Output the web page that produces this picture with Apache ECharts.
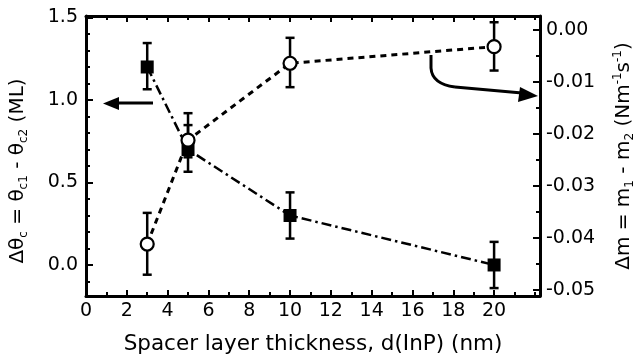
<!DOCTYPE html>
<html>
<head>
<meta charset="utf-8">
<script src="https://cdn.jsdelivr.net/npm/echarts@6/dist/echarts.min.js"></script>
<style>
  html, body { margin: 0; padding: 0; background: #fff; }
  #chart { width: 640px; height: 364px; }
</style>
</head>
<body>
<div id="chart"></div>
<script>
// spacer thickness (nm)
var thickness = [3, 5, 10, 20];
// delta theta_c (ML), left axis, filled squares
var dTheta = [1.2, 0.7, 0.3, 0.0];
var dThetaLo = [1.065, 0.565, 0.16, -0.14];
var dThetaHi = [1.345, 0.92, 0.44, 0.14];
// delta m (N m^-1 s^-1), right axis, open circles
var dM = [-0.0412, -0.0212, -0.0064, -0.0032];
var dMLo = [-0.0471, -0.0245, -0.011, -0.0078];
var dMHi = [-0.0352, -0.0183, -0.0015, 0.0015];

var xTicks = [0, 2, 4, 6, 8, 10, 12, 14, 16, 18, 20];
var xMinorTicks = [1, 3, 5, 7, 9, 11, 13, 15, 17, 19, 21, 22];
var leftTicks = [0, 0.5, 1.0, 1.5];
var leftMinorTicks = [-0.1, 0.1, 0.2, 0.3, 0.4, 0.6, 0.7, 0.8, 0.9, 1.1, 1.2, 1.3, 1.4];
var rightTicks = [0, -0.01, -0.02, -0.03, -0.04, -0.05];
var rightMinorTicks = [-0.005, -0.015, -0.025, -0.035, -0.045];

var FONT = 'DejaVu Sans';
var black = '#000';

var chart = echarts.init(document.getElementById('chart'));

function pairs(xs, ys) {
    return xs.map(function (x, i) { return [x, ys[i]]; });
}
function bars(xs, lo, hi) {
    return xs.map(function (x, i) { return [x, lo[i], hi[i]]; });
}

function renderErr(params, api) {
    var x = api.value(0);
    var a = api.coord([x, api.value(1)]);
    var b = api.coord([x, api.value(2)]);
    var w = 4.5;
    var st = { stroke: black, lineWidth: 2.5 };
    return {
        type: 'group',
        children: [
            { type: 'line', shape: { x1: a[0], y1: a[1], x2: b[0], y2: b[1] }, style: st },
            { type: 'line', shape: { x1: a[0] - w, y1: a[1], x2: a[0] + w, y2: a[1] }, style: st },
            { type: 'line', shape: { x1: b[0] - w, y1: b[1], x2: b[0] + w, y2: b[1] }, style: st }
        ]
    };
}

var xRange = { min: 0, max: 22.25 };
var lRange = { min: -0.188, max: 1.509 };
var rRange = { min: -0.0512, max: 0.0027 };

function tickAxis(range, pos, vals, len, extra) {
    var ax = {
        type: 'value', min: range.min, max: range.max, position: pos,
        axisLine: { show: false, onZero: false },
        axisTick: { show: true, inside: true, length: len, customValues: vals, lineStyle: { color: black, width: 2 } },
        axisLabel: { show: false },
        splitLine: { show: false }
    };
    return Object.assign(ax, extra || {});
}

var labelStyle = { color: black, fontFamily: FONT, fontSize: 19 };
var frame = { show: true, onZero: false, lineStyle: { color: black, width: 3 } };

chart.setOption({
    backgroundColor: '#fff',
    animation: false,
    grid: { left: 86, right: 100, top: 16, bottom: 68, outerBoundsMode: 'none', containLabel: false },
    xAxis: [
        tickAxis(xRange, 'bottom', xTicks, 6, {
            axisLine: frame,
            axisLabel: Object.assign({ show: true, customValues: xTicks, margin: 6 }, labelStyle),
            name: 'Spacer layer thickness, d(InP) (nm)',
            nameLocation: 'middle',
            nameGap: 37,
            nameTextStyle: { color: black, fontFamily: FONT, fontSize: 21.5 }
        }),
        tickAxis(xRange, 'bottom', xMinorTicks, 4),
        tickAxis(xRange, 'top', xTicks, 6, { axisLine: frame }),
        tickAxis(xRange, 'top', xMinorTicks, 4)
    ],
    yAxis: [
        tickAxis(lRange, 'left', leftTicks, 7, {
            axisLine: frame,
            axisLabel: Object.assign({ show: true, customValues: leftTicks, margin: 8,
                formatter: function (v) { return v.toFixed(1); } }, labelStyle),
            name: '{t|\u0394\u03b8}{s|c}{t| = \u03b8}{s|c1}{t| - \u03b8}{s|c2}{t| (ML)}',
            nameLocation: 'middle',
            nameGap: 56,
            nameTextStyle: {
                color: black, fontFamily: FONT, padding: [0, 30, 0, 0],
                rich: {
                    t: { fontFamily: FONT, fontSize: 20, lineHeight: 24, color: black },
                    s: { fontFamily: FONT, fontSize: 12, lineHeight: 12, verticalAlign: 'bottom', color: black }
                }
            }
        }),
        tickAxis(rRange, 'right', rightTicks, 7, {
            axisLine: frame,
            axisLabel: Object.assign({ show: true, customValues: rightTicks, margin: 6,
                formatter: function (v) { return v.toFixed(2); } }, labelStyle),
            name: '{t|\u0394m = m}{s|1}{t| - m}{s|2}{t| (Nm}{u|-1}{t|s}{u|-1}{t|)}',
            nameLocation: 'middle',
            nameGap: 72,
            nameRotate: 90,
            nameTextStyle: {
                color: black, fontFamily: FONT,
                rich: {
                    t: { fontFamily: FONT, fontSize: 20, lineHeight: 24, color: black },
                    s: { fontFamily: FONT, fontSize: 12, lineHeight: 12, verticalAlign: 'bottom', color: black },
                    u: { fontFamily: FONT, fontSize: 12, lineHeight: 12, verticalAlign: 'top', color: black }
                }
            }
        }),
        tickAxis(lRange, 'left', leftMinorTicks, 4),
        tickAxis(rRange, 'right', rightMinorTicks, 4)
    ],
    series: [
        {
            type: 'custom', name: 'errTheta', xAxisIndex: 0, yAxisIndex: 0,
            renderItem: renderErr, data: bars(thickness, dThetaLo, dThetaHi), z: 2
        },
        {
            type: 'custom', name: 'errM', xAxisIndex: 0, yAxisIndex: 1,
            renderItem: renderErr, data: bars(thickness, dMLo, dMHi), z: 2
        },
        {
            type: 'line', name: 'dTheta', xAxisIndex: 0, yAxisIndex: 0,
            data: pairs(thickness, dTheta),
            symbol: 'rect', symbolSize: 13,
            itemStyle: { color: black },
            lineStyle: { color: black, width: 2.5, type: [10, 4, 2.5, 4] },
            z: 3
        },
        {
            type: 'line', name: 'dM', xAxisIndex: 0, yAxisIndex: 1,
            data: pairs(thickness, dM),
            symbol: 'circle', symbolSize: 13,
            itemStyle: { color: '#fff', borderColor: black, borderWidth: 2.2 },
            lineStyle: { color: black, width: 3, type: [6, 5] },
            z: 4
        }
    ],
    graphic: [
        // arrow pointing at left axis
        { type: 'line', shape: { x1: 153, y1: 103, x2: 116, y2: 103 }, style: { stroke: black, lineWidth: 3 } },
        { type: 'polygon', shape: { points: [[103, 103.5], [119, 97], [119, 110]] }, style: { fill: black } },
        // curved arrow pointing at right axis
        { type: 'line', shape: { x1: 431, y1: 55, x2: 431, y2: 68 }, style: { stroke: black, lineWidth: 3 } },
        { type: 'bezierCurve', shape: { x1: 431, y1: 68, cpx1: 432, cpy1: 84, x2: 455, y2: 87 },
          style: { stroke: black, lineWidth: 3, fill: 'none' } },
        { type: 'line', shape: { x1: 455, y1: 87, x2: 522, y2: 93 }, style: { stroke: black, lineWidth: 3 } },
        { type: 'polygon', shape: { points: [[538, 96], [520, 87], [518, 102]] }, style: { fill: black } }
    ]
});
</script>
</body>
</html>
